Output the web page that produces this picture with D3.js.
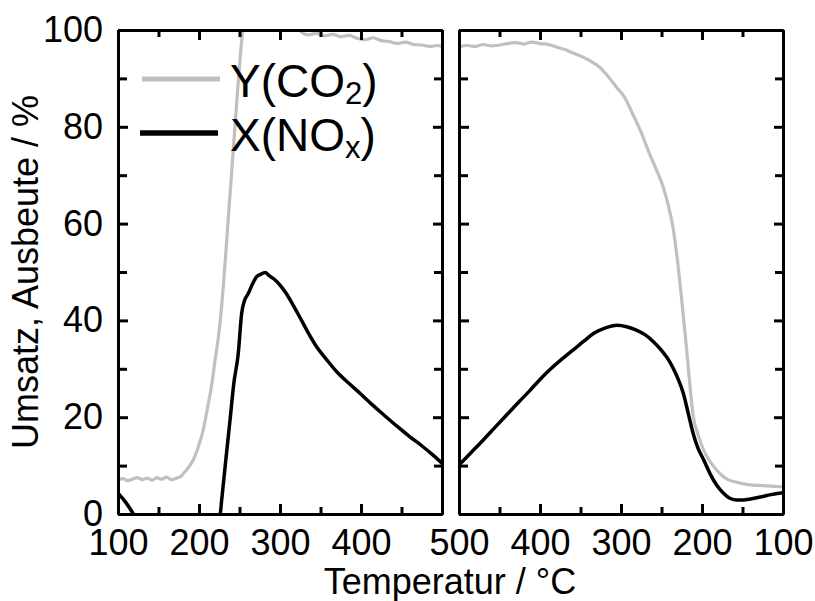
<!DOCTYPE html>
<html lang="de">
<head>
	<meta charset="utf-8">
	<title>Umsatz und Ausbeute</title>
	<script src="https://d3js.org/d3.v7.min.js"></script>
	<style type="text/css">
		body { margin: 0; background: #fff; }
		svg text { font-family: "Liberation Sans", Arial, sans-serif; fill: #000; }
		.axis path,
		.axis line {
		    fill: none;
		    stroke: black;
		    stroke-width: 3px;
		}
		.axis text { font-size: 36px; }
	</style>
</head>
<body>
<script type="text/javascript">

	// Heating ramp (100 -> 500 °C)
	var heatCO2_T = [100,106,112,118,124,130,136,142,148,154,160,166,172,178,181,187,193,199,205,210,216,220,224,230,236,242,248,254,260,300,320,327,335,345,355,365,375,385,395,405,415,425,435,445,455,465,475,485,495,500];
	var heatCO2_Y = [7.0,7.3,6.9,7.2,7.5,7.1,7.4,7.0,7.5,7.2,7.6,7.1,7.4,7.8,8.4,9.6,11.2,13.8,17.2,21.5,27.0,32.0,36.6,47.0,60.7,74.5,88.3,100,106,106,101,99.5,99.0,99.3,98.8,99.1,98.6,98.9,98.3,98.0,98.4,97.8,97.6,97.2,97.5,97.0,96.9,96.6,96.8,96.5];

	var heatNOx_T = [100,110,119,130,220,226.2,228,233,238.3,243,248.5,252.7,256,261,266,271,276,281.5,287,293,300,308,316,325,333,345,358,370,385,399,413,428,444,460,475,490,500];
	var heatNOx_Y = [4.3,2.3,0,-3,-3,0,2.9,11.0,19.4,27.0,33.2,41.5,44.0,45.6,47.5,49.0,49.5,49.9,49.2,48.5,47.3,45.5,43.2,40.5,38.0,34.6,31.8,29.4,27.0,24.9,22.7,20.5,18.2,16.0,14.1,12.0,10.5];

	// Cooling ramp (500 -> 100 °C)
	var coolCO2_T = [500,490,480,470,460,450,440,430,420,410,400,390,380,370,360,348,338,327,317,306,296,286,275,265,256,248,242,236,230,225,221,217,214,210.7,205,198,190,182,175,168,161,150,140,130,120,110,100];
	var coolCO2_Y = [96.5,96.8,96.6,97.0,96.7,96.9,97.2,97.4,97.1,97.5,97.2,97.0,96.5,96.0,95.3,94.5,93.6,92.4,90.6,88.3,86.2,82.8,78.8,74.5,71.0,67.6,64.0,59.4,52.0,44.2,37.5,30.4,25.0,20.1,16.5,13.2,10.8,9.1,7.9,7.1,6.7,6.3,6.0,5.9,5.8,5.7,5.6];

	var coolNOx_T = [500,485,470,455,441,427,412,400,388,373,359,346,334,320,305,293,281,270,260,250,240,231,223,217,211,205,198,190,182,174,165,157,149,140,128,115,100];
	var coolNOx_Y = [10.1,12.7,15.3,18.0,20.5,23.0,25.6,27.8,29.8,32.0,33.9,35.7,37.3,38.4,39.0,38.7,38.0,37.0,35.6,33.8,31.5,28.5,24.9,20.8,16.7,13.6,11.2,8.3,6.0,4.4,3.2,2.9,2.9,3.1,3.5,4.0,4.4];

	// Ticks and labels
	var yMajor = [0,20,40,60,80,100];
	var yMinor = [10,30,50,70,90];
	var xMajor = [100,200,300,400,500];
	var xMinor = [150,250,350,450];
	var heatLabels = [100,200,300,400];
	var coolLabels = [500,400,300,200,100];

	var seriesNames = ["Y(CO", "X(NO"];
	var seriesSubs = ["2", "x"];
	var seriesColors = ["#c0c0c0", "#000000"];

	// Layout
	var width = 815, height = 601;
	var plotTop = 30, plotBottom = 514;
	var panels = [
		{ x0: 118, x1: 442, domain: [100, 500], labels: heatLabels, co2: [heatCO2_T, heatCO2_Y], nox: [heatNOx_T, heatNOx_Y], showY: true },
		{ x0: 459, x1: 783, domain: [500, 100], labels: coolLabels, co2: [coolCO2_T, coolCO2_Y], nox: [coolNOx_T, coolNOx_Y], showY: false }
	];

	var svg = d3.select("body")
				.append("svg")
				.attr("width", width)
				.attr("height", height);

	var yScale = d3.scaleLinear()
					.domain([0, 100])
					.range([plotBottom, plotTop]);

	function pairs(arr) {
		return arr[0].map(function(t, i) { return [t, arr[1][i]]; });
	}

	panels.forEach(function(p, idx) {
		var xScale = d3.scaleLinear()
						.domain(p.domain)
						.range([p.x0, p.x1]);

		// Clip the curves to the plot area
		svg.append("clipPath")
			.attr("id", "clip" + idx)
			.append("rect")
			.attr("x", p.x0)
			.attr("y", plotTop)
			.attr("width", p.x1 - p.x0)
			.attr("height", plotBottom - plotTop);

		var line = d3.line()
					.curve(d3.curveMonotoneX)
					.x(function(d) { return xScale(d[0]); })
					.y(function(d) { return yScale(d[1]); });

		var g = svg.append("g").attr("clip-path", "url(#clip" + idx + ")");
		g.append("path")
			.attr("d", line(pairs(p.co2)))
			.attr("fill", "none")
			.attr("stroke", seriesColors[0])
			.attr("stroke-width", 3.2)
			.attr("stroke-linejoin", "round");
		g.append("path")
			.attr("d", line(pairs(p.nox)))
			.attr("fill", "none")
			.attr("stroke", seriesColors[1])
			.attr("stroke-width", 3.5)
			.attr("stroke-linejoin", "round");

		// Bottom axis: major ticks with labels
		svg.append("g")
			.attr("class", "axis")
			.attr("transform", "translate(0," + plotBottom + ")")
			.call(d3.axisBottom(xScale)
					.tickValues(xMajor)
					.tickSizeInner(-10)
					.tickSizeOuter(0)
					.tickPadding(15)
					.tickFormat(function(d) { return p.labels.indexOf(d) >= 0 ? d : ""; }));
		svg.append("g")
			.attr("class", "axis")
			.attr("transform", "translate(0," + plotBottom + ")")
			.call(d3.axisBottom(xScale).tickValues(xMinor).tickSizeInner(-7).tickSizeOuter(0).tickFormat(""));

		// Top axis
		svg.append("g")
			.attr("class", "axis")
			.attr("transform", "translate(0," + plotTop + ")")
			.call(d3.axisTop(xScale).tickValues(xMajor).tickSizeInner(-10).tickSizeOuter(0).tickFormat(""));
		svg.append("g")
			.attr("class", "axis")
			.attr("transform", "translate(0," + plotTop + ")")
			.call(d3.axisTop(xScale).tickValues(xMinor).tickSizeInner(-7).tickSizeOuter(0).tickFormat(""));

		// Left axis
		svg.append("g")
			.attr("class", "axis")
			.attr("transform", "translate(" + p.x0 + ",0)")
			.call(d3.axisLeft(yScale)
					.tickValues(yMajor)
					.tickSizeInner(-10)
					.tickSizeOuter(0)
					.tickPadding(15)
					.tickFormat(function(d) { return p.showY ? d : ""; }));
		svg.append("g")
			.attr("class", "axis")
			.attr("transform", "translate(" + p.x0 + ",0)")
			.call(d3.axisLeft(yScale).tickValues(yMinor).tickSizeInner(-9).tickSizeOuter(0).tickFormat(""));

		// Right axis
		svg.append("g")
			.attr("class", "axis")
			.attr("transform", "translate(" + p.x1 + ",0)")
			.call(d3.axisRight(yScale).tickValues(yMajor).tickSizeInner(-9).tickSizeOuter(0).tickFormat(""));
		svg.append("g")
			.attr("class", "axis")
			.attr("transform", "translate(" + p.x1 + ",0)")
			.call(d3.axisRight(yScale).tickValues(yMinor).tickSizeInner(-8).tickSizeOuter(0).tickFormat(""));
	});

	// Axis titles
	svg.append("text")
		.attr("transform", "rotate(-90)")
		.attr("x", -(plotTop + plotBottom) / 2)
		.attr("y", 38)
		.attr("text-anchor", "middle")
		.style("font-size", "36px")
		.text("Umsatz, Ausbeute / %");

	svg.append("text")
		.attr("x", 450)
		.attr("y", 594)
		.attr("text-anchor", "middle")
		.style("font-size", "36px")
		.text("Temperatur / °C");

	// Legend
	var legend = svg.append("g");
	seriesNames.forEach(function(name, i) {
		var ly = 79 + i * 54;
		legend.append("line")
			.attr("x1", 142 - i * 2)
			.attr("x2", 220 - i * 2)
			.attr("y1", ly)
			.attr("y2", ly)
			.attr("stroke", seriesColors[i])
			.attr("stroke-width", i === 0 ? 5 : 5.5);
		var t = legend.append("text")
			.attr("x", 230)
			.attr("y", ly + 18)
			.style("font-size", "46px");
		t.append("tspan").text(name);
		t.append("tspan").attr("dy", 7).style("font-size", "31px").text(seriesSubs[i]);
		t.append("tspan").attr("dy", -7).text(")");
	});

</script>
</body>
</html>
